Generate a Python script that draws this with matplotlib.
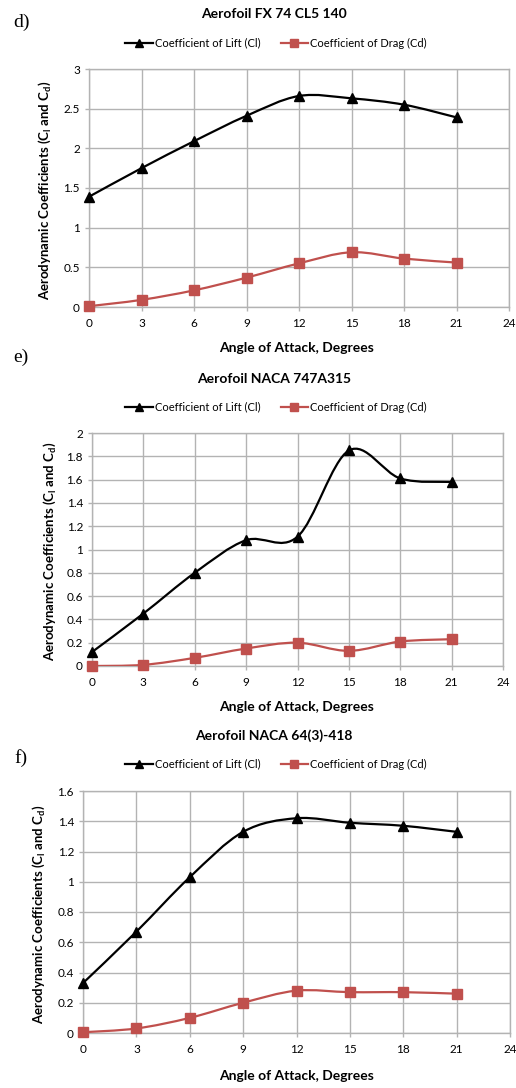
import matplotlib
matplotlib.use("Agg")
import matplotlib.pyplot as plt
from matplotlib.path import Path
from matplotlib.patches import PathPatch
from matplotlib.lines import Line2D
from matplotlib.ticker import FuncFormatter

# data
angles = [0, 3, 6, 9, 12, 15, 18, 21]

cl_fx74 = [1.39, 1.75, 2.09, 2.41, 2.66, 2.63, 2.55, 2.39]
cd_fx74 = [0.01, 0.09, 0.21, 0.37, 0.55, 0.69, 0.61, 0.56]

cl_747 = [0.12, 0.45, 0.80, 1.08, 1.11, 1.85, 1.61, 1.58]
cd_747 = [0.00, 0.01, 0.07, 0.15, 0.20, 0.13, 0.21, 0.23]

cl_643 = [0.33, 0.67, 1.03, 1.33, 1.42, 1.39, 1.37, 1.33]
cd_643 = [0.005, 0.03, 0.10, 0.20, 0.28, 0.27, 0.27, 0.26]

titles = ["Aerofoil FX 74 CL5 140", "Aerofoil NACA 747A315", "Aerofoil NACA 64(3)-418"]
letters = ["d)", "e)", "f)"]
x_ticks = [0, 3, 6, 9, 12, 15, 18, 21, 24]
y_tops = [3.0, 2.0, 1.6]
y_steps = [0.5, 0.2, 0.2]

W, H = 516, 1088
FONT = "Lato"
LIFT = "black"
DRAG = "#C0504D"
GRID = "#b3b3b3"

plt.rcParams["font.family"] = [FONT, "DejaVu Sans"]
plt.rcParams["mathtext.fontset"] = "custom"
plt.rcParams["mathtext.rm"] = "Lato:bold"
plt.rcParams["mathtext.bf"] = "Lato:bold"
plt.rcParams["mathtext.it"] = "Lato:bold"

fig = plt.figure(figsize=(W / 100, H / 100), dpi=100)


def fx(x):
    return x / W


def fy(y):
    return 1 - y / H


def smooth(ax, xs, ys, color, lw):
    # excel style smoothed line (bezier through the points)
    pts = list(zip(xs, ys))
    n = len(pts)
    verts = [pts[0]]
    codes = [Path.MOVETO]
    for i in range(n - 1):
        p0 = pts[max(i - 1, 0)]
        p1 = pts[i]
        p2 = pts[i + 1]
        p3 = pts[min(i + 2, n - 1)]
        c1 = (p1[0] + (p2[0] - p0[0]) / 6, p1[1] + (p2[1] - p0[1]) / 6)
        c2 = (p2[0] - (p3[0] - p1[0]) / 6, p2[1] - (p3[1] - p1[1]) / 6)
        verts += [c1, c2, p2]
        codes += [Path.CURVE4] * 3
    ax.add_patch(PathPatch(Path(verts, codes), facecolor="none",
                           edgecolor=color, lw=lw, zorder=3))


# pixel boxes: left, right, top, bottom
boxes = [(89, 509, 69, 307), (92, 503, 433, 666), (83, 510, 791, 1033)]
title_y = [14, 379, 736]
legend_y = [43, 407, 764]
xlabel_y = [348, 707, 1076]
ylabel_x = [45, 50, 39]
letter_y = [22, 357, 758]
series = [(cl_fx74, cd_fx74), (cl_747, cd_747), (cl_643, cd_643)]

handles = [
    Line2D([], [], color=LIFT, lw=1.6, marker="^", markersize=6),
    Line2D([], [], color=DRAG, lw=1.6, marker="s", markersize=6),
]
labels = ["Coefficient of Lift (Cl)", "Coefficient of Drag (Cd)"]

for k in range(3):
    l, r, t, b = boxes[k]
    ax = fig.add_axes([fx(l), fy(b), (r - l) / W, (b - t) / H])
    cl, cd = series[k]

    smooth(ax, angles, cl, LIFT, 1.6)
    smooth(ax, angles, cd, DRAG, 1.6)
    ax.plot(angles, cl, ls="none", marker="^", color=LIFT, markersize=7,
            zorder=4, clip_on=False)
    ax.plot(angles, cd, ls="none", marker="s", color=DRAG, markersize=6.5,
            zorder=4, clip_on=False)

    ax.set_xlim(0, 24)
    ax.set_ylim(0, y_tops[k])
    ax.set_xticks(x_ticks)
    n_y = int(round(y_tops[k] / y_steps[k]))
    ax.set_yticks([round(i * y_steps[k], 2) for i in range(n_y + 1)])
    ax.yaxis.set_major_formatter(FuncFormatter(lambda v, p: "{:g}".format(round(v, 2))))

    ax.grid(True, color=GRID, lw=1)
    ax.set_axisbelow(True)
    for s in ax.spines.values():
        s.set_color(GRID)
        s.set_linewidth(1)
    ax.tick_params(colors=GRID, labelcolor="black", labelsize=8.5, length=3, width=1)
    ax.tick_params(axis="x", pad=5)

    # texts
    fig.text(fx(274), fy(title_y[k]), titles[k], ha="center", va="center",
             fontsize=10, fontweight="bold")
    fig.text(fx(297), fy(xlabel_y[k]), "Angle of Attack, Degrees", ha="center",
             va="center", fontsize=10, fontweight="bold")
    fig.text(fx(ylabel_x[k]), fy((t + b) / 2 + 2),
             r"Aerodynamic Coefficients (C$_{\mathrm{l}}$ and C$_{\mathrm{d}}$)",
             ha="center", va="center", rotation=90, fontsize=9.5, fontweight="bold")
    fig.text(fx(21), fy(letter_y[k]), letters[k], ha="center", va="center",
             fontsize=14, family="Liberation Serif")

    fig.legend(handles, labels, loc="center", bbox_to_anchor=(fx(276), fy(legend_y[k])),
               ncol=2, frameon=False, fontsize=8, handlelength=2.5,
               handletextpad=0.2, columnspacing=1.8)

fig.savefig("out.png", dpi=100)
